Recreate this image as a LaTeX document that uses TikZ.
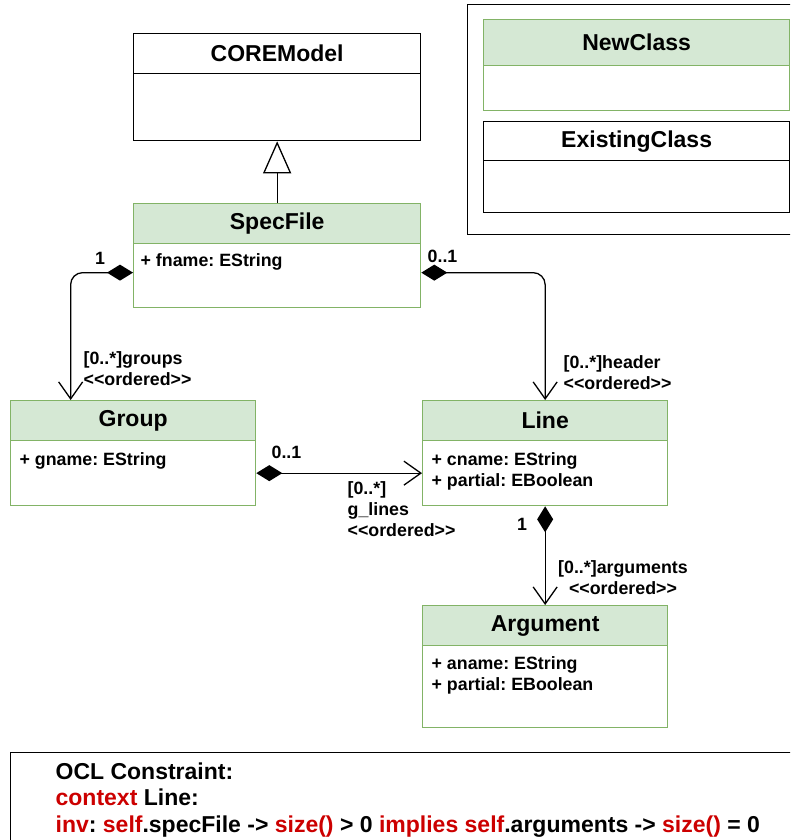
\documentclass[tikz,border=0pt]{standalone}
\usepackage{fontspec}
\setmainfont{Liberation Sans}
\usetikzlibrary{arrows.meta,positioning}
\definecolor{newfill}{HTML}{D5E8D4}
\definecolor{newdraw}{HTML}{82B366}
\definecolor{oclred}{HTML}{CC0000}
\newcommand{\kw}[1]{\textcolor{oclred}{#1}}
\newcommand{\ordered}{<{}<ordered>{}>}
\frenchspacing
\begin{document}
\begin{tikzpicture}[x=1pt, y=-1pt, line width=1.3pt,
    font=\bfseries\fontsize{17.8}{21}\selectfont,
    old node/.style={draw=black, fill=white, inner sep=0pt, anchor=north west},
    new node/.style={old node, draw=newdraw},
    head node/.style={old node, minimum height=40, font=\bfseries\fontsize{23}{26}\selectfont},
    new head/.style={head node, draw=newdraw, fill=newfill},
    attr node/.style={anchor=west, align=left, inner sep=0pt},
    label node/.style={anchor=west, align=left, inner sep=0pt},
    comp/.style={{Diamond[length=26pt,width=16pt]}-{Straight Barb[length=17pt,width=24pt]}}]
    \clip (0,0) rectangle (790,840);
    % legend
    \node[draw, anchor=north west, minimum width=340, minimum height=230, inner sep=0pt] (legend) at (467,4) {};
    \node[new node, minimum width=306, minimum height=91] (newbox) at (483,19) {};
    \node[new head, minimum width=306, minimum height=46] (newhead) at (483,19) {NewClass};
    \node[old node, minimum width=306, minimum height=91] (oldbox) at (483,121) {};
    \node[head node, minimum width=306, minimum height=39] (oldhead) at (483,121) {ExistingClass};
    % classes
    \node[old node, minimum width=287, minimum height=107] (core) at (133,33) {};
    \node[head node, minimum width=287] (corehead) at (133,33) {COREModel};
    \node[new node, minimum width=287, minimum height=104] (spec) at (133,203) {};
    \node[new head, minimum width=287] (spechead) at (133,203) {SpecFile};
    \node[attr node] (specattr) at (140,262) {+ fname: EString};
    \node[new node, minimum width=245, minimum height=105] (group) at (10,400) {};
    \node[new head, minimum width=245] (grouphead) at (10,400) {Group};
    \node[attr node] (groupattr) at (19,461) {+ gname: EString};
    \node[new node, minimum width=245, minimum height=105] (line) at (422,400) {};
    \node[new head, minimum width=245] (linehead) at (422,400) {Line};
    \node[attr node] (lineattr) at (431,471.5) {+ cname: EString\\[-0.5pt]+ partial: EBoolean};
    \node[new node, minimum width=245, minimum height=122] (arg) at (422,605) {};
    \node[new head, minimum width=245] (arghead) at (422,605) {Argument};
    \node[attr node] (argattr) at (431,675.5) {+ aname: EString\\[-0.5pt]+ partial: EBoolean};
    % connectors
    \draw[-{Triangle[open,length=32pt,width=28pt,fill=white]}] (spec.north) -- (core.south);
    \draw[comp, rounded corners=12] ([yshift=-17pt]spec.west) -| ([xshift=-62.5pt]group.north);
    \draw[comp, rounded corners=12] ([yshift=-17pt]spec.east) -| (line.north);
    \draw[comp] ([yshift=-20pt]group.east) -- ([yshift=-20pt]line.west);
    \draw[comp] (line.south) -- (arg.north);
    % labels
    \node[label node, anchor=center] (l1) at (100,258) {1};
    \node[label node] (l2) at (83,369) {[0..*]groups\\\ordered};
    \node[label node] (l3) at (427,256) {0..1};
    \node[label node] (l4) at (563,373) {[0..*]header\\\ordered};
    \node[label node] (l5) at (271,452) {0..1};
    \node[label node, anchor=north west] (l6) at (347,481) {[0..*]\\g\_lines\\\ordered};
    \node[label node, anchor=center] (l7) at (522,524) {1};
    \node[label node, anchor=center, align=center] (l8) at (623,578) {[0..*]arguments\\\ordered};
    % ocl
    \node[draw, anchor=north west, minimum width=800, minimum height=100, inner sep=0pt] (oclbox) at (10,752) {};
    \node[label node, font=\bfseries\fontsize{23}{26.5}\selectfont] (ocl) at (55,800)
      {OCL Constraint:\\
       \kw{context} Line:\\
       \kw{inv}: \kw{self}.specFile -> \kw{size()} > 0 \kw{implies self}.arguments -> \kw{size()} = 0};
\end{tikzpicture}
\end{document}
